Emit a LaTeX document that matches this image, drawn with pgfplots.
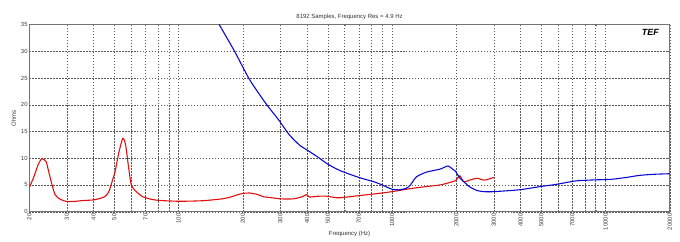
\documentclass[border=0pt]{standalone}
\usepackage{pgfplots}
\pgfplotsset{compat=1.18}
\usepackage{fontspec}
\setmainfont{Liberation Sans}
\begin{document}
\begin{tikzpicture}
\useasboundingbox (-29.3bp,-30.3bp) rectangle (650.7bp,211.7bp);
\begin{axis}[
  at={(0,0)}, anchor=south west,
  scale only axis, width=640.4bp, height=187.2bp,
  xmode=log, xmin=20, xmax=20000, ymin=0, ymax=35,
  log basis x=10,
  xtick={20,30,40,50,60,70,80,90,100,200,300,400,500,600,700,800,900,1000,2000,3000,4000,5000,6000,7000,8000,9000,10000,20000},
  xticklabels={20,30,40,50,,70,,,100,200,300,400,500,,700,,,1000,2000,3000,4000,5000,,7000,,,10000,20000},
  minor xtick={},
  ytick={0,5,10,15,20,25,30,35},
  /pgf/number format/assume math mode=true,
  tick label style={font=\fontsize{6}{7}\selectfont, text=black!75},
  xticklabel style={rotate=90, anchor=east, inner sep=1.5pt},
  yticklabel style={inner sep=1.5pt},
  tick style={black!60},
  major tick length=2pt,
  grid=major,
  major grid style={black!65, line width=0.4pt, dash pattern=on 1.6pt off 1.4pt},
  axis line style={black!55, line width=0.6pt},
  title={8192 Samples, Frequency Res = 4.9 Hz},
  title style={font=\fontsize{6}{7}\selectfont, text=black!80, yshift=-4.5bp},
  xlabel={Frequency (Hz)},
  xlabel style={font=\fontsize{6}{7}\selectfont, text=black!80, yshift=4bp},
  ylabel={Ohms},
  ylabel style={font=\fontsize{6}{7}\selectfont, text=black!80, yshift=0bp},
]
\addplot[color={rgb,255:red,225;green,15;blue,15}, line width=1.1pt, smooth, tension=0.4] coordinates {
(20,4.5) (21,6.5) (22,8.8) (22.9,9.9) (24,9.3) (25,6.5) (26.4,3.2) (28,2.3) (30,1.9)
(33,1.95) (36,2.1) (40,2.2) (43,2.5) (45,2.8) (47,3.6) (49,5.8) (50.5,7.6) (52.5,11.0)
(54.8,13.7) (56.5,12.5) (58.5,8.0) (60.2,4.9) (64,3.6) (68,2.8) (75,2.3) (82,2.1)
(100,1.95) (120,2.0) (135,2.1) (160,2.4) (174,2.7) (190,3.2) (200,3.4) (215,3.5)
(235,3.2) (250,2.8) (275,2.6) (300,2.4) (345,2.4) (380,2.8) (398,3.2) (410,2.75)
(456,2.9) (494,2.9) (550,2.6) (570,2.6) (700,3.0) (880,3.45) (1000,3.75) (1260,4.4)
(1677,5.0) (1800,5.3) (1980,5.8) (2080,6.7) (2170,5.6) (2350,6.0) (2510,6.25)
(2700,5.9) (3000,6.4)
};
\addplot[color={rgb,255:red,10;green,10;blue,210}, line width=1.1pt, smooth, tension=0.4] coordinates {
(155,35) (183,30) (213,25) (235,22.4) (259,20) (294,17.2) (330,14.4)
(370,12.4) (398,11.6) (450,10.2) (500,8.9) (570,7.7) (700,6.4) (822,5.6) (900,5.0)
(1000,4.2) (1090,4.1) (1170,4.4) (1220,5.0) (1300,6.5) (1450,7.4) (1677,7.95)
(1830,8.55) (1930,7.9) (1980,7.6) (2078,6.3) (2170,5.6) (2320,4.6) (2510,3.95)
(2700,3.75) (3000,3.75) (3960,4.1) (4950,4.7) (5870,5.1) (7240,5.75) (8900,5.95)
(10600,6.05) (12500,6.4) (14500,6.8) (17000,7.0) (20000,7.1)
};
\node[anchor=north east, font=\bfseries\itshape\fontsize{9}{9}\selectfont, inner sep=1pt] at (rel axis cs:0.985,0.98) {TEF};
\end{axis}
\end{tikzpicture}
\end{document}
